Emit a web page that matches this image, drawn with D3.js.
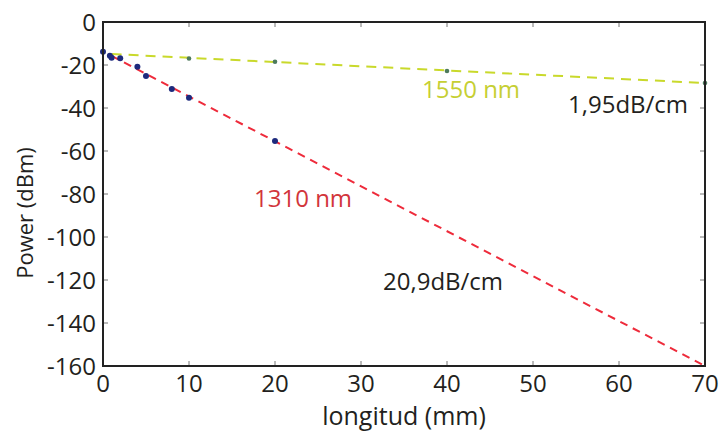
<!DOCTYPE html>
<html>
<head>
<meta charset="utf-8">
<script src="https://cdn.jsdelivr.net/npm/d3@7"></script>
<style>
  html, body { margin: 0; padding: 0; background: #fff; }
  svg { display: block; font-family: 'Open Sans', sans-serif; }
</style>
</head>
<body>
<svg id="chart" width="725" height="435"></svg>
<script>
// ── Data ─────────────────────────────────────────────────────
const xTicks = [0, 10, 20, 30, 40, 50, 60, 70];
const yTicks = [0, -20, -40, -60, -80, -100, -120, -140, -160];

// measured points, 1310 nm (blue dots)
const x1310 = [0, 0.8, 1, 2, 4, 5, 8, 10, 20];
const p1310 = [-13.8, -15.7, -16.6, -16.9, -20.8, -25.1, -31.2, -35.2, -55.3];

// measured points, 1550 nm (small green dots)
const x1550 = [10, 20, 40, 70];
const p1550 = [-17.0, -18.5, -22.8, -28.4];

// linear fits (endpoints)
const fitX = [1, 70];
const fit1310 = [-15.8, -160];
const fit1550 = [-14.9, -28.4];

const COLORS = {
  red: '#ee2b3b',
  green: '#c9d92b',
  redText: '#d2353b',
  greenText: '#c6cf33',
  blueDot: '#1d2a7d',
  greenDot: '#4d7a5c',
  frame: '#222',
  text: '#231f20'
};

// ── Layout ───────────────────────────────────────────────────
const svg = d3.select('#chart');
const margin = { left: 103, right: 20, top: 22, bottom: 69 };
const W = 725, H = 435;

const x = d3.scaleLinear().domain([0, 70]).range([margin.left, W - margin.right]);
const y = d3.scaleLinear().domain([-160, 0]).range([H - margin.bottom, margin.top]);

const x0 = x(0), x1 = x(70), y0 = y(0), y1 = y(-160);

// ── Inward ticks on all four sides ───────────────────────────
const tickLen = 5;
const ticks = svg.append('g').attr('stroke', '#777').attr('stroke-width', 1);
xTicks.forEach(t => {
  ticks.append('line').attr('x1', x(t)).attr('x2', x(t)).attr('y1', y1).attr('y2', y1 - tickLen);
  ticks.append('line').attr('x1', x(t)).attr('x2', x(t)).attr('y1', y0).attr('y2', y0 + tickLen);
});
yTicks.forEach(t => {
  ticks.append('line').attr('x1', x0).attr('x2', x0 + tickLen).attr('y1', y(t)).attr('y2', y(t));
  ticks.append('line').attr('x1', x1).attr('x2', x1 - tickLen).attr('y1', y(t)).attr('y2', y(t));
});

// ── Fit lines ────────────────────────────────────────────────
const line = d3.line().x(d => x(d[0])).y(d => y(d[1]));

svg.append('path')
  .datum(d3.zip(fitX, fit1550))
  .attr('d', line)
  .attr('fill', 'none')
  .attr('stroke', COLORS.green)
  .attr('stroke-width', 2)
  .attr('stroke-dasharray', '10,7');

svg.append('path')
  .datum(d3.zip(fitX, fit1310))
  .attr('d', line)
  .attr('fill', 'none')
  .attr('stroke', COLORS.red)
  .attr('stroke-width', 2)
  .attr('stroke-dasharray', '8,6');

// ── Points ───────────────────────────────────────────────────
svg.append('g').selectAll('circle')
  .data(d3.zip(x1550, p1550))
  .join('circle')
  .attr('cx', d => x(d[0]))
  .attr('cy', d => y(d[1]))
  .attr('r', 2.3)
  .attr('fill', COLORS.greenDot);

svg.append('g').selectAll('circle')
  .data(d3.zip(x1310, p1310))
  .join('circle')
  .attr('cx', d => x(d[0]))
  .attr('cy', d => y(d[1]))
  .attr('r', 3)
  .attr('fill', COLORS.blueDot);

// ── Frame ────────────────────────────────────────────────────
svg.append('rect')
  .attr('x', x0).attr('y', y0)
  .attr('width', x1 - x0).attr('height', y1 - y0)
  .attr('fill', 'none')
  .attr('stroke', COLORS.frame)
  .attr('stroke-width', 2);

// ── Tick labels ──────────────────────────────────────────────
svg.append('g').selectAll('text')
  .data(xTicks)
  .join('text')
  .attr('x', d => x(d))
  .attr('y', y1 + 26)
  .attr('text-anchor', 'middle')
  .attr('font-size', 24)
  .attr('fill', COLORS.text)
  .text(d => d);

svg.append('g').selectAll('text')
  .data(yTicks)
  .join('text')
  .attr('x', x0 - 7)
  .attr('y', d => y(d))
  .attr('dy', '0.36em')
  .attr('text-anchor', 'end')
  .attr('font-size', 24)
  .attr('fill', COLORS.text)
  .text(d => d);

// ── Axis titles ──────────────────────────────────────────────
svg.append('text')
  .attr('x', (x0 + x1) / 2)
  .attr('y', 425)
  .attr('text-anchor', 'middle')
  .attr('font-size', 25)
  .attr('fill', COLORS.text)
  .text('longitud (mm)');

svg.append('text')
  .attr('transform', 'translate(33,213) rotate(-90)')
  .attr('text-anchor', 'middle')
  .attr('font-size', 22)
  .attr('fill', COLORS.text)
  .text('Power (dBm)');

// ── Annotations ──────────────────────────────────────────────
svg.append('text')
  .attr('x', 422).attr('y', 98)
  .attr('font-size', 24)
  .attr('fill', COLORS.greenText)
  .text('1550 nm');

svg.append('text')
  .attr('x', 568).attr('y', 113)
  .attr('font-size', 24)
  .attr('fill', COLORS.text)
  .text('1,95dB/cm');

svg.append('text')
  .attr('x', 254).attr('y', 207)
  .attr('font-size', 24)
  .attr('fill', COLORS.redText)
  .text('1310 nm');

svg.append('text')
  .attr('x', 383).attr('y', 290)
  .attr('font-size', 24)
  .attr('fill', COLORS.text)
  .text('20,9dB/cm');
</script>
</body>
</html>
